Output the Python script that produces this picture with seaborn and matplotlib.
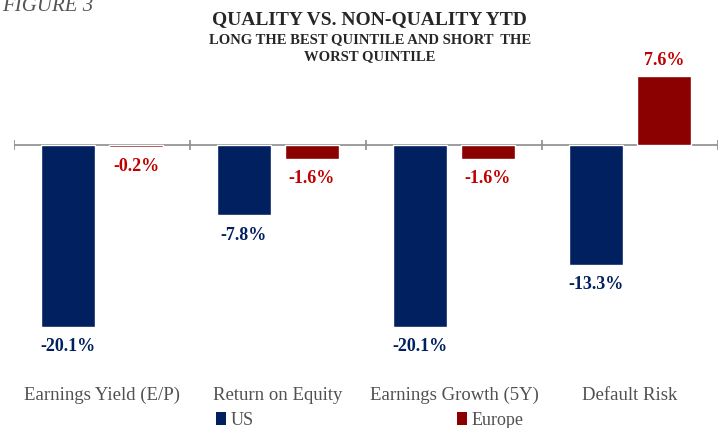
import pandas as pd
import matplotlib.pyplot as plt
import seaborn as sns
from matplotlib.patches import Patch

sns.set_style("white")
plt.rcParams['font.family'] = ['Liberation Serif', 'DejaVu Serif']

# datos
categorias = ["Earnings Yield (E/P)", "Return on Equity", "Earnings Growth (5Y)", "Default Risk"]
us = [-20.1, -7.8, -20.1, -13.3]
europe = [-0.2, -1.6, -1.6, 7.6]
series = ["US", "Europe"]

df = pd.DataFrame({
    "categoria": categorias * 2,
    "valor": us + europe,
    "region": ["US"] * len(us) + ["Europe"] * len(europe),
})

colores = {"US": "#002060", "Europe": "#8B0000"}
colores_texto = {"US": "#002060", "Europe": "#C00000"}

fig = plt.figure(figsize=(7.25, 4.28), dpi=100)
ax = fig.add_axes([0.0193, 0.133, 0.971, 0.74])

sns.barplot(data=df, x="categoria", y="valor", hue="region", order=categorias,
            hue_order=series, palette=colores, width=0.773, gap=0.206,
            saturation=1, legend=False, ax=ax)

ax.set_ylim(-25, 10)
ax.set_xlim(-0.5, len(categorias) - 0.5)
for s in ax.spines.values():
    s.set_visible(False)
ax.set_yticks([])
ax.set_xticks([])
ax.set_xlabel("")
ax.set_ylabel("")

# linea del cero con marcas entre categorias
ax.axhline(0, color="#8c8c8c", lw=1.2, zorder=0)
limites = [i - 0.5 for i in range(len(categorias) + 1)]
ax.vlines(limites, -0.55, 0.55, color="#8c8c8c", lw=1.2)

# etiquetas de valores
for cont, reg in zip(ax.containers, series):
    for barra in cont:
        v = barra.get_height()
        x = barra.get_x() + barra.get_width() / 2
        if v < 0:
            ax.annotate(f"{v:.1f}%", (x, v), xytext=(0, -8), textcoords="offset points",
                        ha="center", va="top", fontsize=13, fontweight="bold",
                        color=colores_texto[reg])
        else:
            ax.annotate(f"{v:.1f}%", (x, v), xytext=(0, 5), textcoords="offset points",
                        ha="center", va="bottom", fontsize=13, fontweight="bold",
                        color=colores_texto[reg], annotation_clip=False)

# nombres de categorias abajo
for i, c in enumerate(categorias):
    ax.text(i, -0.076, c, transform=ax.get_xaxis_transform(), ha="center", va="center",
            fontsize=13.5, color="#505050")

# titulos
fig.text(0.003, 0.975, "FIGURE 3", fontsize=15, style="italic", color="#555555",
         ha="left", va="baseline")
fig.text(0.51, 0.955, "QUALITY VS. NON-QUALITY YTD", fontsize=14, fontweight="bold",
         ha="center", va="center")
fig.text(0.51, 0.908, "LONG THE BEST QUINTILE AND SHORT  THE", fontsize=10.5, fontweight="bold",
         ha="center", va="center")
fig.text(0.51, 0.868, "WORST QUINTILE", fontsize=10.5, fontweight="bold",
         ha="center", va="center")

# leyenda
handles = [Patch(facecolor=colores[s], edgecolor="none") for s in series]
fig.legend(handles, series, loc="center", bbox_to_anchor=(0.51, 0.018), ncol=2,
           frameon=False, fontsize=13, handlelength=0.55, handleheight=0.7,
           handletextpad=0.25, columnspacing=11.3, labelcolor="#505050")

plt.savefig("out.png", dpi=100)
